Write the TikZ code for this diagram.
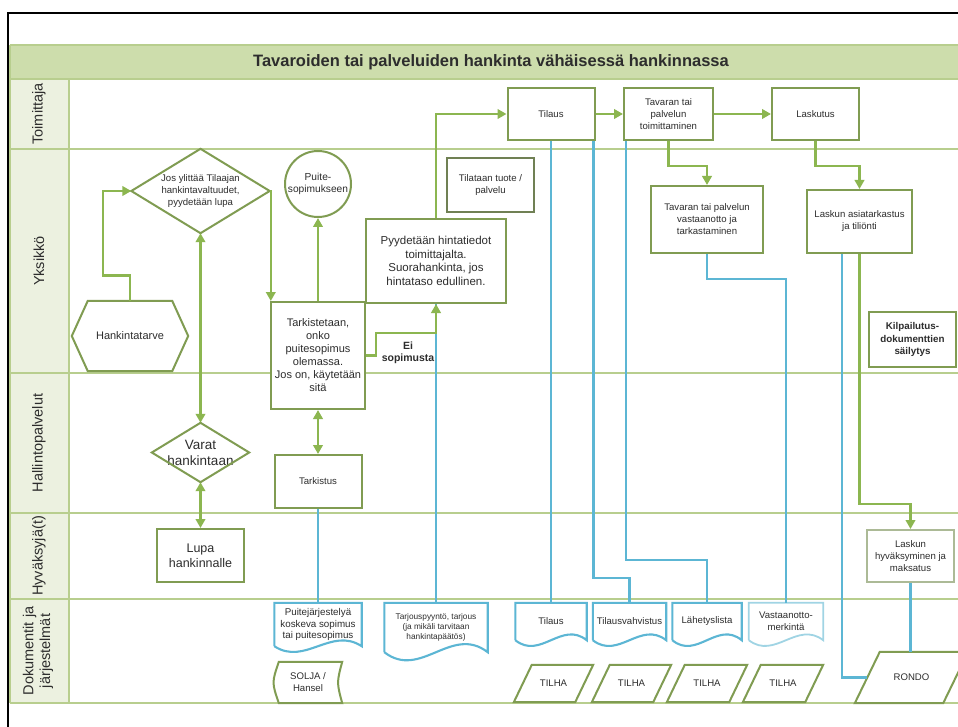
\documentclass[tikz,border=0pt]{standalone}
\usepackage{fontspec}
\setmainfont{Liberation Sans}
\usetikzlibrary{arrows.meta,calc}
\definecolor{laneln}{RGB}{184,206,142}
\definecolor{titlefill}{RGB}{205,221,172}
\definecolor{colfill}{RGB}{236,241,224}
\definecolor{boxc}{RGB}{128,156,82}
\definecolor{boxdark}{RGB}{112,128,84}
\definecolor{boxlight}{RGB}{172,186,150}
\definecolor{arrc}{RGB}{140,182,80}
\definecolor{bluel}{RGB}{92,182,212}
\definecolor{bluelight}{RGB}{160,212,228}
\definecolor{txt}{RGB}{45,45,45}
\tikzset{
 lane/.style={draw=laneln, line width=2.2pt},
 box/.style={draw=boxc, line width=2pt, fill=white, align=center, inner sep=1pt, text=txt, font=\fontsize{9.6}{12}\selectfont},
 shp/.style={draw=none, align=center, inner sep=0pt, text=txt, font=\fontsize{9.6}{12}\selectfont},
 outl/.style={draw=boxc, line width=2pt},
 garrow/.style={draw=arrc, line width=2.6pt, -{Triangle[length=9pt,width=9.5pt]}},
 gboth/.style={draw=arrc, line width=2.6pt, {Triangle[length=9pt,width=9.5pt]}-{Triangle[length=9pt,width=9.5pt]}},
 bline/.style={draw=bluel, line width=2.1pt},
 lanelabel/.style={rotate=90, align=center, text=txt, font=\fontsize{14.5}{17}\selectfont},
}
\newcommand\docdraw[3]{\draw[#2] (#1.south west) -- (#1.north west) -- (#1.north east) -- (#1.south east) .. controls ($(#1.south east)!0.35!(#1.south west)+(0,-#3)$) and ($(#1.south east)!0.65!(#1.south west)+(0,#3)$) .. (#1.south west);}
\newcommand\paradraw[3]{\draw[#2] ($(#1.north west)+(#3,0)$) -- (#1.north east) -- ($(#1.south east)+(-#3,0)$) -- (#1.south west) -- cycle;}
\begin{document}
\begin{tikzpicture}[x=1pt,y=-1pt]
\useasboundingbox (0,0) rectangle (958,727);
\fill[white] (0,0) rectangle (958,727);
% pool
\fill[titlefill] (10,45) rectangle (962,79);
\fill[colfill] (10,79) rectangle (69,703);
\foreach \yy in {45,79,149,373,513,599,703} {\draw[lane] (10,\yy) -- (962,\yy);}
\draw[lane] (10,45) -- (10,703);
\draw[lane] (69,79) -- (69,703);
\draw[black, line width=2.4pt] (8,732) -- (8,13) -- (962,13);
\node[font=\bfseries\fontsize{16.5}{20}\selectfont, text=txt] (title) at (491,62) {Tavaroiden tai palveluiden hankinta vähäisessä hankinnassa};
% lane labels
\node[lanelabel] (ltoim) at (39,114) {Toimittaja};
\node[lanelabel] (lyks) at (39,261) {Yksikkö};
\node[lanelabel] (lhall) at (39,443) {Hallintopalvelut};
\node[lanelabel] (lhyv) at (39,556) {Hyväksyjä(t)};
\node[lanelabel] (ldok) at (38,651) {Dokumentit ja\\järjestelmät};
% Toimittaja lane
\node[box, minimum width=87pt, minimum height=52pt] (tilaus) at (551,114) {Tilaus};
\node[box, minimum width=89pt, minimum height=52pt] (toimit) at (668.5,114) {Tavaran tai\\palvelun\\toimittaminen};
\node[box, minimum width=87pt, minimum height=52pt] (laskutus) at (815.5,114) {Laskutus};
% Yksikko lane
\node[shp, minimum width=138pt, minimum height=84pt] (jos) at (200.5,191) {Jos ylittää Tilaajan\\hankintavaltuudet,\\pyydetään lupa};
\draw[outl] (jos.north) -- (jos.east) -- (jos.south) -- (jos.west) -- cycle;
\node[box, circle, minimum size=66pt, inner sep=0pt, font=\fontsize{10.2}{12}\selectfont] (circ) at (318,184) {Puite-\\sopimukseen};
\node[shp, minimum width=116pt, minimum height=70pt, font=\fontsize{11}{13}\selectfont] (hank) at (130,336) {Hankintatarve};
\draw[outl] ($(hank.north west)+(16,0)$) -- ($(hank.north east)+(-16,0)$) -- (hank.east) -- ($(hank.south east)+(-16,0)$) -- ($(hank.south west)+(16,0)$) -- (hank.west) -- cycle;
\node[box, minimum width=94pt, minimum height=107pt, font=\fontsize{11}{13}\selectfont] (tark) at (318,355.5) {Tarkistetaan,\\onko\\puitesopimus\\olemassa.\\Jos on, käytetään\\sitä};
\node[box, minimum width=140pt, minimum height=84pt, font=\fontsize{11.5}{13.5}\selectfont] (pyyd) at (436,261) {Pyydetään hintatiedot\\toimittajalta.\\Suorahankinta, jos\\hintataso edullinen.};
\node[box, draw=boxdark, minimum width=87pt, minimum height=54pt] (tilataan) at (490.5,185) {Tilataan tuote /\\palvelu};
\node[box, minimum width=112pt, minimum height=67pt] (vast) at (707,219.5) {Tavaran tai palvelun\\vastaanotto ja\\tarkastaminen};
\node[box, minimum width=105pt, minimum height=63pt] (asiat) at (859.5,221.5) {Laskun asiatarkastus\\ja tiliönti};
\node[box, minimum width=87pt, minimum height=55pt, font=\bfseries\fontsize{9.8}{12.5}\selectfont] (kilp) at (912.5,339.5) {Kilpailutus-\\dokumenttien\\säilytys};
\node[font=\bfseries\fontsize{10.5}{12}\selectfont, text=txt, align=center, inner sep=0pt] (ei) at (408,353) {Ei\\sopimusta};
% Hallintopalvelut lane
\node[shp, minimum width=97pt, minimum height=59pt, font=\fontsize{13.5}{16}\selectfont] (varat) at (200.5,452.5) {Varat\\hankintaan};
\draw[outl] (varat.north) -- (varat.east) -- (varat.south) -- (varat.west) -- cycle;
\node[box, minimum width=87pt, minimum height=53pt] (tarkistus) at (318,481.5) {Tarkistus};
% Hyvaksyja lane
\node[box, minimum width=87pt, minimum height=53pt, font=\fontsize{12.5}{15}\selectfont] (lupa) at (200.5,555.5) {Lupa\\hankinnalle};
\node[box, draw=boxlight, minimum width=87pt, minimum height=52pt] (hyvaks) at (910.5,556) {Laskun\\hyväksyminen ja\\maksatus};
% Dokumentit lane
\node[shp, minimum width=87pt, minimum height=43pt, font=\fontsize{9.8}{11.5}\selectfont] (puite) at (318,624.5) {Puitejärjestelyä\\koskeva sopimus\\tai puitesopimus};
\docdraw{puite}{bline}{20}
\node[shp, minimum width=103pt, minimum height=49pt, font=\fontsize{8.3}{10}\selectfont] (tarjous) at (436,627.5) {Tarjouspyyntö, tarjous\\(ja mikäli tarvitaan\\hankintapäätös)};
\docdraw{tarjous}{bline}{28}
\node[shp, minimum width=71pt, minimum height=37pt] (tdoc) at (551,621.5) {Tilaus};
\docdraw{tdoc}{bline}{20}
\node[shp, minimum width=73pt, minimum height=37pt] (tvahv) at (629.5,621.5) {Tilausvahvistus};
\docdraw{tvahv}{bline}{20}
\node[shp, minimum width=69pt, minimum height=37pt] (lahet) at (707,621.5) {Lähetyslista};
\docdraw{lahet}{bline}{20}
\node[shp, minimum width=74pt, minimum height=37pt] (vastm) at (786,621.5) {Vastaanotto-\\merkintä};
\docdraw{vastm}{draw=bluelight, line width=1.8pt}{20}
\node[shp, minimum width=68pt, minimum height=41pt] (solja) at (308,682.5) {SOLJA /\\Hansel};
\draw[outl] ($(solja.north west)+(5,0)$) -- (solja.north east) .. controls ($(solja.east)+(-5.5,0)$) .. (solja.south east) -- ($(solja.south west)+(5,0)$) .. controls ($(solja.west)+(-2,0)$) .. ($(solja.north west)+(5,0)$) -- cycle;
\node[shp, minimum width=79pt, minimum height=37pt] (th1) at (553.5,683.5) {TILHA};
\paradraw{th1}{outl}{18}
\node[shp, minimum width=79pt, minimum height=37pt] (th2) at (631.5,683.5) {TILHA};
\paradraw{th2}{outl}{18}
\node[shp, minimum width=80pt, minimum height=37pt] (th3) at (707,683.5) {TILHA};
\paradraw{th3}{outl}{18}
\node[shp, minimum width=80pt, minimum height=37pt] (th4) at (783,683.5) {TILHA};
\paradraw{th4}{outl}{18}
\node[shp, minimum width=113pt, minimum height=51pt] (rondo) at (911.5,677.5) {RONDO};
\paradraw{rondo}{outl}{25}
% blue connectors
\draw[bline] (tarkistus.south) -- (puite.north);
\draw[bline] (pyyd.south) -- (pyyd.south |- tarjous.north);
\draw[bline] (tilaus.south) -- (tdoc.north);
\draw[bline] ([xshift=-2pt]tilaus.south east) -- ++(0,437) -| (tvahv.north);
\draw[bline] ([xshift=3pt]toimit.south west) -- ++(0,419) -| (lahet.north);
\draw[bline] (vast.south) -- ++(0,25) -| (vastm.north);
\draw[bline] ([xshift=-17.5pt]asiat.south) |- ($(rondo.west)+(12.5,0)$);
\draw[bline] (hyvaks.south) -- (hyvaks.south |- rondo.north);
% green connectors
\draw[garrow] (hank.north) -- ++(0,-25) -- ++(-27,0) |- (jos.west);
\draw[garrow] (jos.east) -| ([xshift=0.8pt]tark.north west);
\draw[garrow] (tark.north) -- (circ.south);
\draw[garrow] (tark.east) -- ++(10,0) |- ($(pyyd.south)+(0,29)$) -- (pyyd.south);
\draw[garrow] (pyyd.north) |- (tilaus.west);
\draw[garrow] (tilaus.east) -- (toimit.west);
\draw[garrow] (toimit.east) -- (laskutus.west);
\draw[garrow] (toimit.south) -- ++(0,25) -| (vast.north);
\draw[garrow] (laskutus.south) -- ++(0,25) -| (asiat.north);
\draw[garrow] (asiat.south) -- ++(0,250) -| (hyvaks.north);
\draw[gboth] (jos.south) -- (varat.north);
\draw[gboth] (varat.south) -- (lupa.north);
\draw[gboth] (tark.south) -- (tarkistus.north);
\end{tikzpicture}
\end{document}
